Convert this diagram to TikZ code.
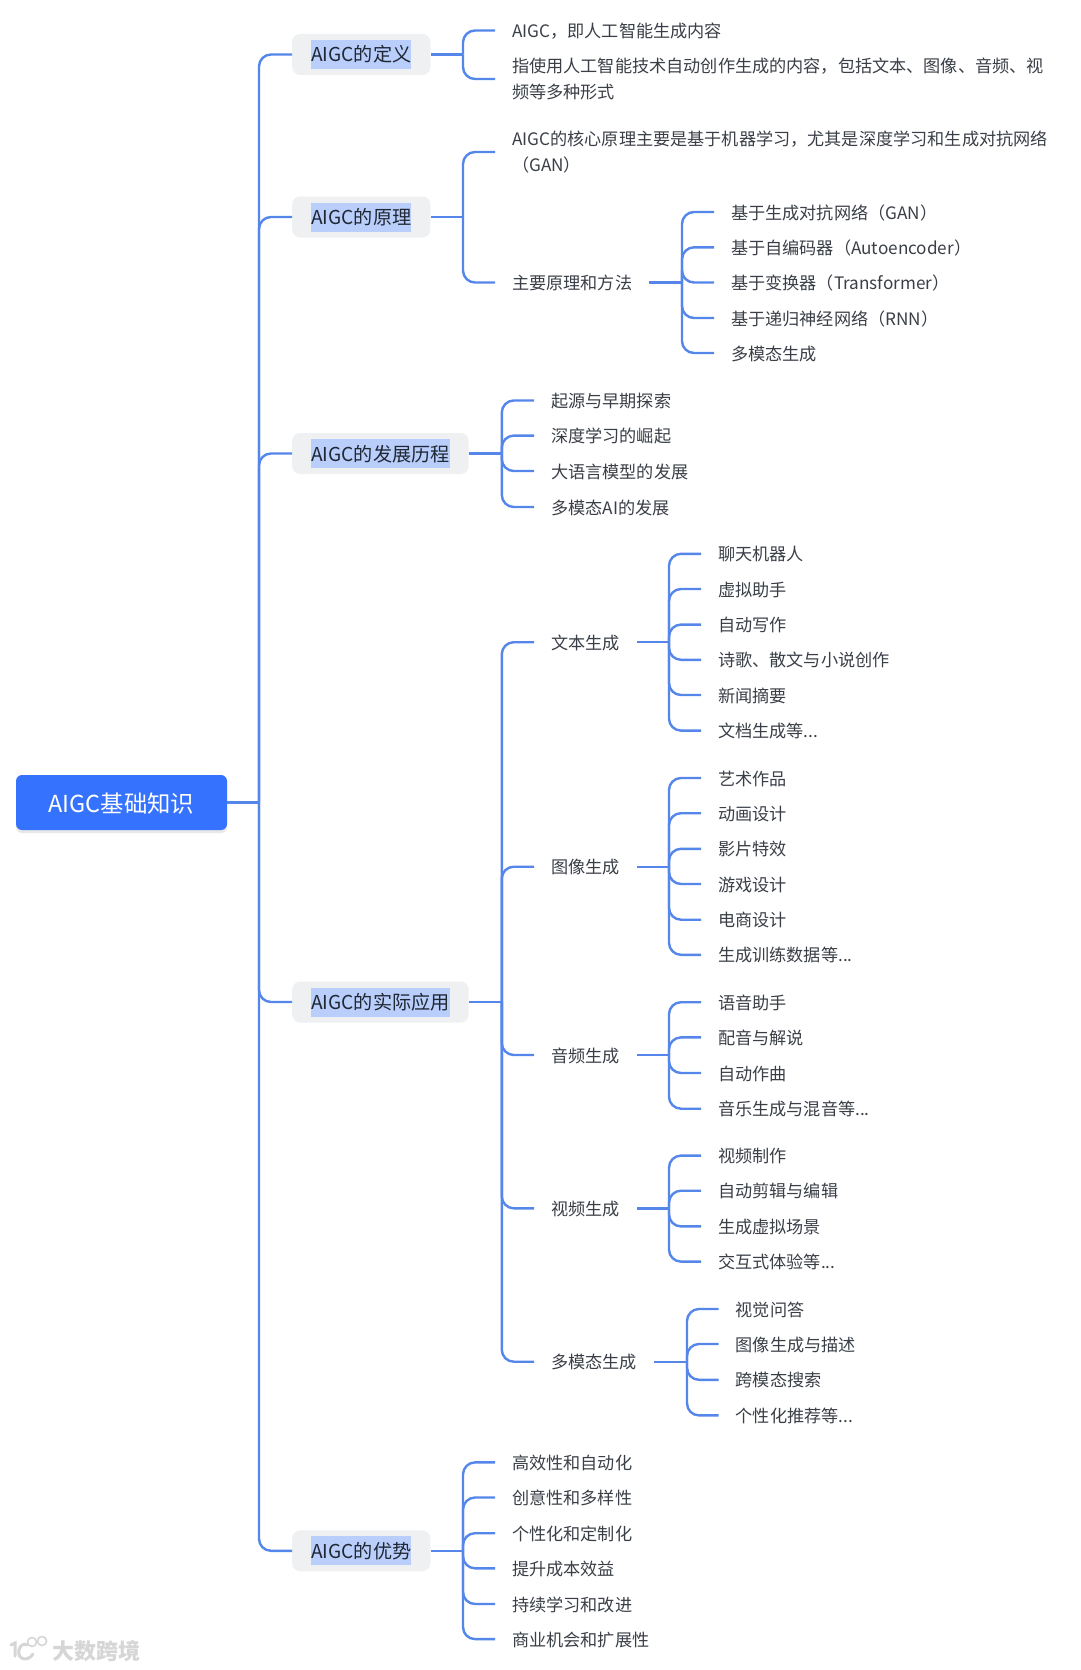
\documentclass[tikz,border=0pt]{standalone}
\usepackage{fontspec}
\usepackage{xcolor}
\setmainfont{Noto Sans CJK SC}
\usetikzlibrary{shadows}
\definecolor{linec}{HTML}{5586EA}
\definecolor{rootc}{HTML}{3572FE}
\definecolor{topicc}{HTML}{EEF0F2}
\definecolor{hlc}{HTML}{B9CEFB}
\definecolor{leafc}{HTML}{3A3F47}
\definecolor{topict}{HTML}{1F2733}
\definecolor{wmc}{HTML}{D6D6D6}
\newcommand\hlt[1]{{\setlength\fboxsep{0pt}\colorbox{hlc}{\rule[-7pt]{0pt}{29pt}#1}}}
\newcommand\fan[3]{%
  \coordinate (jn) at (#2,0);
  \draw[conn] (#1.east) -- (jn |- #1.east);
  \foreach \c in {#3}{\draw[conn,rounded corners=12pt] (jn |- #1.east) |- (\c.west);}
}
\tikzset{
  conn/.style={draw=linec,line width=2.4pt},
  rootbox/.style={fill=rootc,rounded corners=6pt,minimum width=211pt,minimum height=55pt,inner sep=0pt,text=white,text height=22.4pt,text depth=3pt,font=\fontsize{23.4}{28}\selectfont,drop shadow={opacity=0.18,shadow xshift=0pt,shadow yshift=-3pt}},
  topic/.style={anchor=west,fill=topicc,rounded corners=8pt,inner xsep=19pt,inner ysep=6pt,text=topict,font=\fontsize{19.15}{24}\selectfont},
  leaf/.style={anchor=west,inner xsep=17pt,inner ysep=0pt,align=left,text=leafc,text height=16pt,text depth=2pt,font=\fontsize{17.15}{25.5}\selectfont},
  leaftwo/.style={leaf,text height=,text depth=},
}
\begin{document}
\begin{tikzpicture}[x=1pt,y=-1pt]
\useasboundingbox (0,0) rectangle (1080,1670);
\fill[white] (0,0) rectangle (1080,1670);
\node[rootbox] (root) at (121.5,802.5) {AIGC基础知识};
\node[topic] (t1) at (292,54.5) {\hlt{AIGC的定义}};
\node[topic] (t2) at (292,217) {\hlt{AIGC的原理}};
\node[topic] (t3) at (292,453.5) {\hlt{AIGC的发展历程}};
\node[topic] (t4) at (292,1002) {\hlt{AIGC的实际应用}};
\node[topic] (t5) at (292,1550.8) {\hlt{AIGC的优势}};
% definition
\node[leaf] (a1) at (495,30.5) {AIGC，即人工智能生成内容};
\node[leaftwo] (a2) at (495,79) {指使用人工智能技术自动创作生成的内容，包括文本、图像、音频、视\\频等多种形式};
% principle
\node[leaftwo] (b1) at (495,152) {AIGC的核心原理主要是基于机器学习，尤其是深度学习和生成对抗网络\\（GAN）};
\node[leaf] (b2) at (495,282.5) {主要原理和方法};
\node[leaf] (b21) at (714,212) {基于生成对抗网络（GAN）};
\node[leaf] (b22) at (714,247.3) {基于自编码器（Autoencoder）};
\node[leaf] (b23) at (714,282.5) {基于变换器（Transformer）};
\node[leaf] (b24) at (714,318) {基于递归神经网络（RNN）};
\node[leaf] (b25) at (714,353) {多模态生成};
% history
\node[leaf] (c1) at (534,400.5) {起源与早期探索};
\node[leaf] (c2) at (534,435.6) {深度学习的崛起};
\node[leaf] (c3) at (534,471) {大语言模型的发展};
\node[leaf] (c4) at (534,507) {多模态AI的发展};
% applications
\node[leaf] (d1) at (534,642.2) {文本生成};
\node[leaf] (d2) at (534,866.7) {图像生成};
\node[leaf] (d3) at (534,1055) {音频生成};
\node[leaf] (d4) at (534,1208.3) {视频生成};
\node[leaf] (d5) at (534,1361.7) {多模态生成};
\node[leaf] (d11) at (701,553.8) {聊天机器人};
\node[leaf] (d12) at (701,589) {虚拟助手};
\node[leaf] (d13) at (701,624.6) {自动写作};
\node[leaf] (d14) at (701,659.8) {诗歌、散文与小说创作};
\node[leaf] (d15) at (701,695) {新闻摘要};
\node[leaf] (d16) at (701,730.6) {文档生成等...};
\node[leaf] (d21) at (701,778) {艺术作品};
\node[leaf] (d22) at (701,813.2) {动画设计};
\node[leaf] (d23) at (701,848.8) {影片特效};
\node[leaf] (d24) at (701,884) {游戏设计};
\node[leaf] (d25) at (701,919.7) {电商设计};
\node[leaf] (d26) at (701,954.8) {生成训练数据等...};
\node[leaf] (d31) at (701,1002.2) {语音助手};
\node[leaf] (d32) at (701,1037.4) {配音与解说};
\node[leaf] (d33) at (701,1073) {自动作曲};
\node[leaf] (d34) at (701,1108.7) {音乐生成与混音等...};
\node[leaf] (d41) at (701,1155.6) {视频制作};
\node[leaf] (d42) at (701,1190.7) {自动剪辑与编辑};
\node[leaf] (d43) at (701,1226.4) {生成虚拟场景};
\node[leaf] (d44) at (701,1261.6) {交互式体验等...};
\node[leaf] (d51) at (718.5,1309) {视觉问答};
\node[leaf] (d52) at (718.5,1344) {图像生成与描述};
\node[leaf] (d53) at (718.5,1379.8) {跨模态搜索};
\node[leaf] (d54) at (718.5,1415.4) {个性化推荐等...};
% advantages
\node[leaf] (e1) at (495,1462.4) {高效性和自动化};
\node[leaf] (e2) at (495,1497.5) {创意性和多样性};
\node[leaf] (e3) at (495,1533.2) {个性化和定制化};
\node[leaf] (e4) at (495,1568.3) {提升成本效益};
\node[leaf] (e5) at (495,1604) {持续学习和改进};
\node[leaf] (e6) at (495,1639.1) {商业机会和扩展性};
% connectors
\fan{root}{259}{t1,t2,t3,t4,t5}
\fan{t1}{463}{a1,a2}
\fan{t2}{463}{b1,b2}
\fan{b2}{682}{b21,b22,b23,b24,b25}
\fan{t3}{501.8}{c1,c2,c3,c4}
\fan{t4}{501.8}{d1,d2,d3,d4,d5}
\fan{d1}{669}{d11,d12,d13,d14,d15,d16}
\fan{d2}{669}{d21,d22,d23,d24,d25,d26}
\fan{d3}{669}{d31,d32,d33,d34}
\fan{d4}{669}{d41,d42,d43,d44}
\fan{d5}{687}{d51,d52,d53,d54}
\fan{t5}{463}{e1,e2,e3,e4,e5,e6}
% watermark
\begin{scope}[draw=wmc,line width=3pt,line cap=round]
\draw (11,1645) -- (15,1643) -- (15,1656);
\draw (33,1654) .. controls (28,1662) and (17,1660) .. (19,1650) .. controls (20,1645) and (24,1643) .. (27,1645);
\draw[line width=1.6pt] (32,1642) circle (4.5pt);
\draw[line width=1.6pt] (42,1641) circle (4.5pt);
\end{scope}
\node[anchor=west,inner sep=0pt,text=wmc,font=\fontsize{22}{24}\selectfont\bfseries] (wm) at (52,1651) {大数跨境};
\end{tikzpicture}
\end{document}
